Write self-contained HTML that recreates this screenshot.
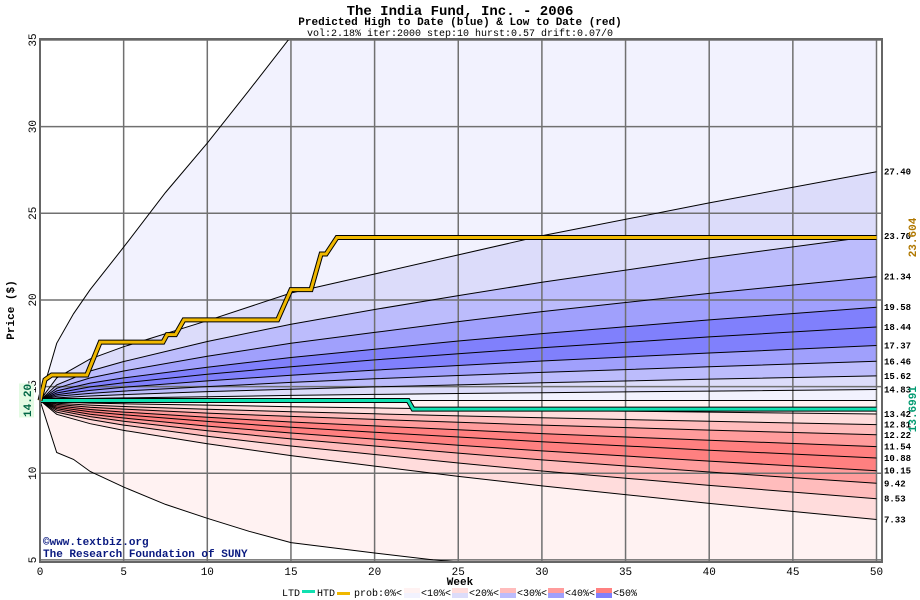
<!DOCTYPE html>
<html><head><meta charset="utf-8"><style>
html,body{margin:0;padding:0;background:#fff}
svg{display:block;font-family:"Liberation Mono","DejaVu Sans Mono",monospace}
</style></head><body>
<svg id="chart" width="920" height="600" viewBox="0 0 920 600" xmlns="http://www.w3.org/2000/svg">
<rect x="0" y="0" width="920" height="600" fill="#fff"/>
<text x="460" y="15" text-anchor="middle" font-size="14" font-weight="bold" fill="#000">The India Fund, Inc. - 2006</text>
<text x="460" y="25" text-anchor="middle" font-size="11" font-weight="bold" fill="#000">Predicted High to Date (blue) &amp;  Low to Date (red)</text>
<text x="460" y="36" text-anchor="middle" font-size="10" fill="#000">vol:2.18% iter:2000 step:10 hurst:0.57 drift:0.07/0</text>
<g id="bands"></g>
<g id="grid"></g>
<g id="curves"></g>
<g id="series"></g>
<g id="labels"></g>
<rect x="40" y="39" width="842" height="523" fill="none" stroke="#666" stroke-width="2"/>
<text x="43" y="545" font-size="11" font-weight="bold" fill="#0a1a80">©www.textbiz.org</text>
<text x="43" y="557" font-size="11" font-weight="bold" fill="#0a1a80">The Research Foundation of SUNY</text>
<text transform="translate(14,310) rotate(-90)" text-anchor="middle" font-size="11" font-weight="bold">Price ($)</text>
<text x="460" y="585" text-anchor="middle" font-size="11" font-weight="bold">Week</text>
<g font-size="10">
 <text x="282" y="596">LTD</text><rect x="302" y="590" width="13" height="3" fill="#10e0b0"/>
 <text x="317" y="596">HTD</text><rect x="337" y="592" width="13" height="3" fill="#f0b800"/>
 <text x="354" y="596">prob:0%&lt;</text>
 <rect x="404" y="588" width="16" height="5" fill="#fff2f2"/><rect x="404" y="593" width="16" height="5" fill="#f2f2fe"/>
 <text x="421" y="596">&lt;10%&lt;</text>
 <rect x="452" y="588" width="16" height="5" fill="#ffdcdc"/><rect x="452" y="593" width="16" height="5" fill="#dcdcfa"/>
 <text x="469" y="596">&lt;20%&lt;</text>
 <rect x="500" y="588" width="16" height="5" fill="#ffbcbc"/><rect x="500" y="593" width="16" height="5" fill="#bcbcfc"/>
 <text x="517" y="596">&lt;30%&lt;</text>
 <rect x="548" y="588" width="16" height="5" fill="#ff9c9c"/><rect x="548" y="593" width="16" height="5" fill="#a0a0fc"/>
 <text x="565" y="596">&lt;40%&lt;</text>
 <rect x="596" y="588" width="16" height="5" fill="#ff8080"/><rect x="596" y="593" width="16" height="5" fill="#8080fc"/>
 <text x="613" y="596">&lt;50%</text>
</g>
</svg>
<script>
const NS="http://www.w3.org/2000/svg";
const weeks=[0,1,3,5,10,15,20,25,30,40,50];
const endLabels=["27.40","23.70","21.34","19.58","18.44","17.37","16.46","15.62","14.83","13.42","12.81","12.22","11.54","10.88","10.15","9.42","8.53","7.33"];
const p27=[14.2,15.5,16.6,17.3,18.8,20.4,21.5,22.6,23.7,25.6,27.40];
const p23=[14.2,15.1,15.9,16.45,17.6,18.6,19.45,20.25,21.02,22.42,23.70];
const p21=[14.2,14.9,15.5,15.9,16.75,17.5,18.13,18.75,19.33,20.38,21.34];
const p19=[14.2,14.75,15.2,15.5,16.12,16.68,17.16,17.63,18.06,18.85,19.58];
const p18=[14.2,14.63,14.98,15.22,15.71,16.15,16.54,16.90,17.24,17.87,18.44];
const p17=[14.2,14.53,14.78,14.96,15.33,15.66,15.95,16.22,16.48,16.94,17.37];
const p16=[14.2,14.44,14.61,14.74,15.0,15.24,15.45,15.64,15.82,16.15,16.46];
const p15=[14.2,14.35,14.46,14.54,14.71,14.85,14.98,15.10,15.22,15.43,15.62];
const p14=[14.2,14.27,14.32,14.35,14.42,14.49,14.55,14.60,14.65,14.74,14.83];
const center=[14.2,14.2,14.2,14.2,14.2,14.2,14.2,14.2,14.2,14.2,14.2];
const r13=[14.2,14.12,14.05,14.01,13.93,13.84,13.77,13.70,13.64,13.53,13.42];
const r12a=[14.2,14.04,13.93,13.85,13.69,13.55,13.43,13.31,13.20,13.00,12.81];
const r12b=[14.2,13.97,13.81,13.70,13.47,13.28,13.11,12.94,12.78,12.49,12.22];
const r11=[14.2,13.89,13.68,13.53,13.23,12.96,12.73,12.51,12.29,11.90,11.54];
const r10a=[14.2,13.81,13.55,13.37,12.99,12.65,12.37,12.09,11.82,11.33,10.88];
const r10b=[14.2,13.73,13.41,13.19,12.72,12.32,11.97,11.62,11.29,10.70,10.15];
const r9=[14.2,13.64,13.27,13.0,12.45,11.98,11.57,11.16,10.77,10.07,9.42];
const r8=[14.2,13.53,13.1,12.78,12.13,11.57,11.08,10.59,10.13,9.30,8.53];
const r7=[14.2,13.4,12.86,12.47,11.7,11.02,10.41,9.82,9.27,8.26,7.33];
const maxWeeks=[0,1,2,3,5,7.5,10,12.5,15,20,30,50];
const maxVals=[14.2,17.5,19.2,20.6,23.05,26.2,29.05,32.1,35.2,39,45,55];
const minWeeks=[0,1,2,3,5,7.5,10,12.5,15,20,23.5,30,50];
const minVals=[14.2,11.2,10.8,10.1,9.2,8.2,7.4,6.65,6.0,5.4,5.0,4.5,3.5];
const htdWeeks=[0,0.3,0.7,2.8,3.6,7.35,7.6,8.1,8.6,14.2,15.0,16.2,16.8,17.1,17.75,50];
const htdVals=[14.2,15.4,15.67,15.67,17.57,17.57,18.0,18.0,18.85,18.85,20.6,20.6,22.65,22.65,23.604,23.604];
const ltdWeeks=[0,22,22.3,50];
const ltdVals=[14.2,14.2,13.6991,13.6991];
const yTicks=[5,10,15,20,25,30,35];
const xTicks=[0,5,10,15,20,25,30,35,40,45,50];

const X=w=>40+w*16.73;
const Y=v=>40+(35-v)*17.33;
function interp(ws,vs,t){for(let i=1;i<ws.length;i++){if(t<=ws[i]){const f=(t-ws[i-1])/(ws[i]-ws[i-1]);return vs[i-1]+f*(vs[i]-vs[i-1]);}}return vs[vs.length-1];}
const fine=[];for(let t=0;t<=50.001;t+=0.5)fine.push(t);
const env={max:[maxWeeks,maxVals],min:[minWeeks,minVals]};
const stack=[env.max,[weeks,p27],[weeks,p23],[weeks,p21],[weeks,p19],[weeks,p18],[weeks,p17],[weeks,p16],[weeks,p15],[weeks,p14],[weeks,center],[weeks,r13],[weeks,r12a],[weeks,r12b],[weeks,r11],[weeks,r10a],[weeks,r10b],[weeks,r9],[weeks,r8],[weeks,r7],env.min];
const bandColors=["#f2f2fe","#dcdcfa","#bcbcfc","#a0a0fc","#8080fc","#8080fc","#a0a0fc","#bcbcfc","#dcdcfa","#f2f2fe","#fff2f2","#ffdcdc","#ffbcbc","#ff9c9c","#ff8080","#ff8080","#ff9c9c","#ffbcbc","#ffdcdc","#fff2f2"];
const clipY=v=>Math.max(40,Math.min(562,Y(v)));
const bands=document.getElementById('bands');
for(let b=0;b<stack.length-1;b++){
  const a=stack[b],c=stack[b+1];
  let pts=fine.map(t=>X(t).toFixed(1)+","+clipY(interp(a[0],a[1],t)).toFixed(1));
  let pts2=fine.slice().reverse().map(t=>X(t).toFixed(1)+","+clipY(interp(c[0],c[1],t)).toFixed(1));
  const p=document.createElementNS(NS,'polygon');
  p.setAttribute('points',pts.concat(pts2).join(' '));
  p.setAttribute('fill',bandColors[b]);
  
  
  bands.appendChild(p);
}
const grid=document.getElementById('grid');
function line(g,x1,y1,x2,y2,st,sw,name){const l=document.createElementNS(NS,'line');l.setAttribute('x1',x1);l.setAttribute('y1',y1);l.setAttribute('x2',x2);l.setAttribute('y2',y2);l.setAttribute('stroke',st);l.setAttribute('stroke-width',sw);


g.appendChild(l);}
function text(g,x,y,s,attrs,name){const t=document.createElementNS(NS,'text');t.setAttribute('x',x);t.setAttribute('y',y);for(const k in attrs)t.setAttribute(k,attrs[k]);t.textContent=s;


g.appendChild(t);return t;}
yTicks.forEach(v=>{line(grid,40,Y(v),882,Y(v),'#707070',1.5,'y-gridline');
 text(grid,0,0,String(v),{'font-size':'11','text-anchor':'middle',transform:`translate(36,${Y(v)}) rotate(-90)`},'y-tick-label');});
xTicks.forEach(w=>{line(grid,X(w),40,X(w),562,'#707070',1.5,'x-gridline');
 text(grid,X(w),575,String(w),{'font-size':'11','text-anchor':'middle'},'x-tick-label');});
const curves=document.getElementById('curves');
function path(g,ws,vs,stroke,sw,name){let d='';ws.forEach((w,i)=>{d+=(i?'L':'M')+X(w).toFixed(1)+','+Y(vs[i]).toFixed(1);});
 const p=document.createElementNS(NS,'path');p.setAttribute('d',d);p.setAttribute('fill','none');p.setAttribute('stroke',stroke);p.setAttribute('stroke-width',sw);
 
 
 g.appendChild(p);return p;}
const clip=document.createElementNS(NS,'clipPath');clip.setAttribute('id','pc');const cr=document.createElementNS(NS,'rect');cr.setAttribute('x',40);cr.setAttribute('y',40);cr.setAttribute('width',842);cr.setAttribute('height',522);clip.appendChild(cr);document.getElementById('chart').appendChild(clip);
curves.setAttribute('clip-path','url(#pc)');
stack.forEach(s=>path(curves,s[0],s[1],'#000',1,'percentile-curve'));
const series=document.getElementById('series');
path(series,ltdWeeks,ltdVals,'#000',5,'ltd-outline');
path(series,ltdWeeks,ltdVals,'#10e0b0',3,'ltd-line');
path(series,htdWeeks,htdVals,'#000',5,'htd-outline');
path(series,htdWeeks,htdVals,'#f0b800',3,'htd-line');
const labels=document.getElementById('labels');
const ends=[p27,p23,p21,p19,p18,p17,p16,p15,p14,r13,r12a,r12b,r11,r10a,r10b,r9,r8,r7];
ends.forEach((arr,i)=>text(labels,884,Y(arr[arr.length-1])+3,endLabels[i],{'font-size':'9','font-weight':'bold'},'percentile-end-label'));
text(labels,0,0,htdVals[htdVals.length-1].toFixed(3),{'font-size':'11','font-weight':'bold','fill':'#b07800','text-anchor':'middle',transform:`translate(916,${Y(htdVals[htdVals.length-1])}) rotate(-90)`},'htd-final-value');
text(labels,0,0,ltdVals[ltdVals.length-1].toFixed(4),{'font-size':'11','font-weight':'bold','fill':'#009a70','text-anchor':'middle',transform:`translate(916,${Y(ltdVals[ltdVals.length-1])}) rotate(-90)`},'ltd-final-value');
const bg=document.createElementNS(NS,'rect');bg.setAttribute('x',19);bg.setAttribute('y',Y(14.2)-17);bg.setAttribute('width',15);bg.setAttribute('height',34);bg.setAttribute('fill','#e4fbe4');


labels.appendChild(bg);
text(labels,0,0,'14.20',{'font-size':'11','font-weight':'bold','fill':'#064','text-anchor':'middle',transform:`translate(31,${Y(14.2)}) rotate(-90)`},'start-price-label');
</script>
</body></html>
